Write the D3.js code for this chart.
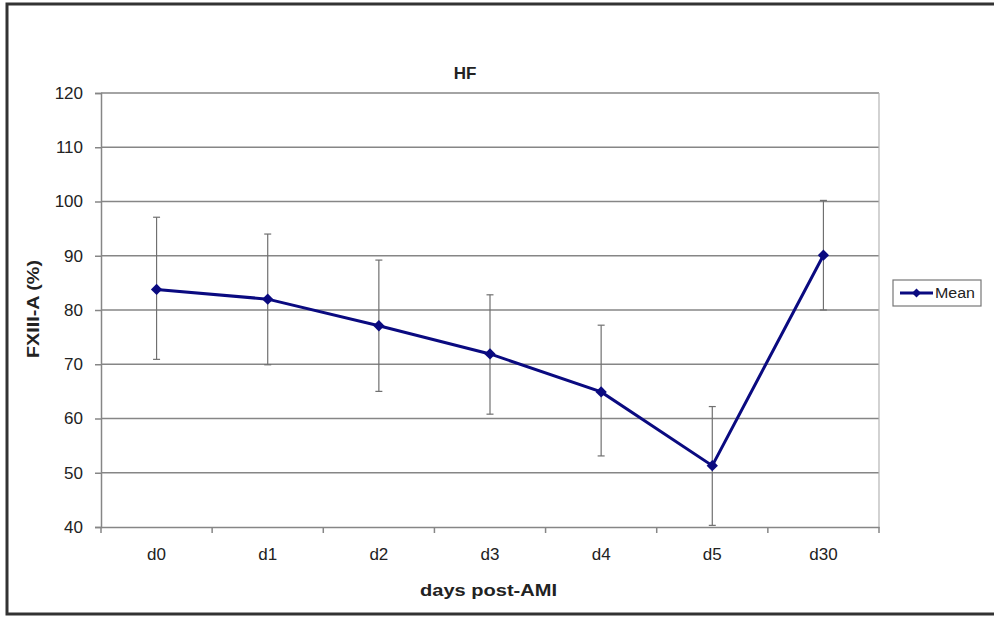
<!DOCTYPE html>
<html>
<head>
<meta charset="utf-8">
<style>
  body { margin: 0; background: #fff; }
  text { font-family: Arial, "Liberation Sans", sans-serif; fill: #222; }
</style>
</head>
<body>
<div id="chart-area"></div>

<script src="https://cdn.jsdelivr.net/npm/d3@7"></script>
<script>
    const days = ["d0", "d1", "d2", "d3", "d4", "d5", "d30"];
    const mean = [83.8, 82.0, 77.1, 71.9, 64.9, 51.3, 90.1];
    const upper = [97.1, 94.0, 89.2, 82.8, 77.2, 62.2, 100.2];
    const lower = [70.9, 69.9, 65.0, 60.8, 53.1, 40.3, 80.0];
    const yTicks = [40, 50, 60, 70, 80, 90, 100, 110, 120];

    const width = 994;
    const height = 618;
    const plot = { left: 101, right: 879, top: 93, bottom: 527 };
    const navy = "#0a0a80";

    const svg = d3.select("#chart-area")
        .append("svg")
            .attr("width", width)
            .attr("height", height);

    // outer frame (right side runs off the picture)
    svg.append("rect")
        .attr("x", 7).attr("y", 4)
        .attr("width", 1000).attr("height", 610)
        .attr("fill", "none")
        .attr("stroke", "#333")
        .attr("stroke-width", 3);

    const x = d3.scaleBand()
        .domain(days)
        .range([plot.left, plot.right]);

    const y = d3.scaleLinear()
        .domain([40, 120])
        .range([plot.bottom, plot.top]);

    // horizontal gridlines
    svg.append("g")
        .selectAll("line")
        .data(yTicks.slice(1))
        .join("line")
            .attr("x1", plot.left).attr("x2", plot.right)
            .attr("y1", d => y(d)).attr("y2", d => y(d))
            .attr("stroke", "#868686")
            .attr("stroke-width", 1.5);

    // right border of plot area
    svg.append("line")
        .attr("x1", plot.right).attr("x2", plot.right)
        .attr("y1", plot.top).attr("y2", plot.bottom)
        .attr("stroke", "#b5b5b5")
        .attr("stroke-width", 1.2);

    // y axis
    const yAxis = svg.append("g")
        .attr("transform", `translate(${plot.left},0)`)
        .call(d3.axisLeft(y).tickValues(yTicks).tickSize(6).tickPadding(12));
    yAxis.select(".domain").attr("stroke", "#868686").attr("stroke-width", 1.5);
    yAxis.selectAll(".tick line").attr("stroke", "#868686").attr("stroke-width", 1.5);
    yAxis.selectAll(".tick text")
        .attr("font-size", 17)
        .attr("fill", "#333")
        .attr("font-family", "Arial, 'Liberation Sans', sans-serif");

    // x axis
    const xAxis = svg.append("g")
        .attr("transform", `translate(0,${plot.bottom})`)
        .call(d3.axisBottom(x).tickSize(0).tickPadding(21));
    xAxis.select(".domain").attr("stroke", "#868686").attr("stroke-width", 1.5);
    xAxis.selectAll(".tick text")
        .attr("font-size", 17)
        .attr("fill", "#333")
        .attr("font-family", "Arial, 'Liberation Sans', sans-serif");

    // x ticks at category boundaries
    const bounds = days.map(d => x(d)).concat([plot.right]);
    svg.append("g")
        .selectAll("line")
        .data(bounds)
        .join("line")
            .attr("x1", d => d).attr("x2", d => d)
            .attr("y1", plot.bottom).attr("y2", plot.bottom + 6)
            .attr("stroke", "#868686")
            .attr("stroke-width", 1.5);

    const cx = d => x(d) + x.bandwidth() / 2;

    // error bars
    const err = svg.append("g")
        .attr("stroke", "#707070")
        .attr("stroke-width", 1.2);
    days.forEach((d, i) => {
        err.append("line")
            .attr("x1", cx(d)).attr("x2", cx(d))
            .attr("y1", y(upper[i])).attr("y2", y(lower[i]));
        [upper[i], lower[i]].forEach(v => {
            err.append("line")
                .attr("x1", cx(d) - 3.5).attr("x2", cx(d) + 3.5)
                .attr("y1", y(v)).attr("y2", y(v));
        });
    });

    // mean line
    const line = d3.line()
        .x((d, i) => cx(days[i]))
        .y(d => y(d));

    svg.append("path")
        .datum(mean)
        .attr("d", line)
        .attr("fill", "none")
        .attr("stroke", navy)
        .attr("stroke-width", 3);

    // square rotated 45 degrees, like the spreadsheet marker
    const diamond = d3.symbol().type(d3.symbolSquare).size(64);

    svg.append("g")
        .selectAll("path")
        .data(mean)
        .join("path")
            .attr("d", diamond)
            .attr("transform", (d, i) => `translate(${cx(days[i])},${y(d)}) rotate(45)`)
            .attr("fill", navy);

    // title
    svg.append("text")
        .attr("x", 465).attr("y", 79)
        .attr("text-anchor", "middle")
        .attr("font-size", 17)
        .attr("font-weight", "bold")
        .text("HF");

    // axis labels
    svg.append("text")
        .attr("x", 420).attr("y", 596)
        .attr("font-size", 17)
        .attr("font-weight", "bold")
        .attr("textLength", 137)
        .attr("lengthAdjust", "spacingAndGlyphs")
        .text("days post-AMI");

    svg.append("text")
        .attr("transform", "translate(39,358) rotate(-90)")
        .attr("font-size", 17)
        .attr("font-weight", "bold")
        .attr("textLength", 98)
        .attr("lengthAdjust", "spacingAndGlyphs")
        .text("FXIII-A (%)");

    // legend
    const legend = svg.append("g").attr("transform", "translate(893,280)");
    legend.append("rect")
        .attr("width", 88).attr("height", 26)
        .attr("fill", "#fff")
        .attr("stroke", "#777")
        .attr("stroke-width", 1.2);
    legend.append("line")
        .attr("x1", 7).attr("x2", 40)
        .attr("y1", 13).attr("y2", 13)
        .attr("stroke", navy)
        .attr("stroke-width", 3);
    legend.append("path")
        .attr("d", d3.symbol().type(d3.symbolSquare).size(40))
        .attr("transform", "translate(23.5,13) rotate(45)")
        .attr("fill", navy);
    legend.append("text")
        .attr("x", 42).attr("y", 18)
        .attr("font-size", 14)
        .attr("fill", "#333")
        .attr("textLength", 40)
        .attr("lengthAdjust", "spacingAndGlyphs")
        .text("Mean");
</script>
</body>
</html>
